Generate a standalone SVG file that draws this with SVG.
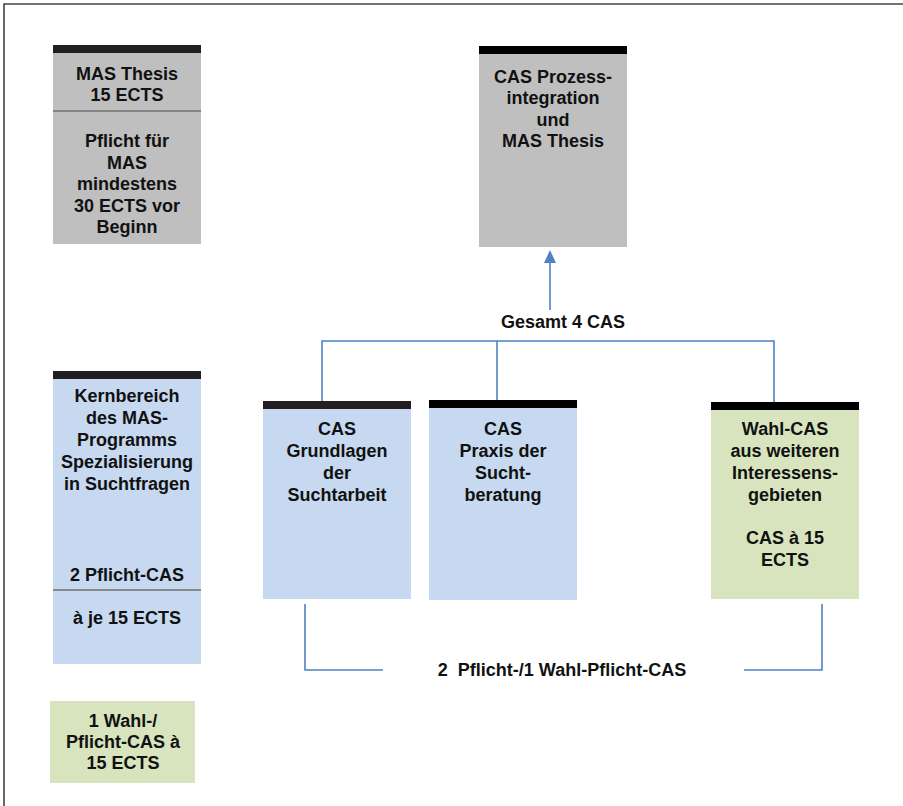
<svg xmlns="http://www.w3.org/2000/svg" width="903" height="806" viewBox="0 0 903 806">
<style>
text{font-family:"Liberation Sans",Arial,sans-serif;font-weight:bold;font-size:18px;fill:#111;text-anchor:middle}
.gray{fill:#bfbfbf}
.blue{fill:#c6d9f0}
.green{fill:#d7e4bd}
.bar{fill:#231f20}
.div{stroke:#6f6f6f;stroke-width:1.5}
.conn{fill:none;stroke:#4f81c4;stroke-width:1.6}
</style>
<rect width="903" height="806" fill="#fff"/>
<g id="frame"><path d="M4,806 V4 H903" fill="none" stroke="#444" stroke-width="1.6"/></g>

<g id="mas-thesis">
<rect class="gray" x="53" y="53" width="148" height="191"/>
<rect class="bar" x="53" y="45" width="148" height="8"/>
<line class="div" x1="53" y1="111" x2="201" y2="111"/>
<text x="127" y="80">MAS Thesis</text>
<text x="127" y="101">15 ECTS</text>
<text x="127" y="147">Pflicht für</text>
<text x="127" y="168.5">MAS</text>
<text x="127" y="190">mindestens</text>
<text x="127" y="211.5">30 ECTS vor</text>
<text x="127" y="233">Beginn</text>
</g>

<g id="cas-prozess">
<rect class="gray" x="479" y="54" width="148" height="193"/>
<rect fill="#000" x="479" y="46" width="148" height="8"/>
<text x="553" y="82.5">CAS Prozess-</text>
<text x="553" y="104">integration</text>
<text x="553" y="125.5">und</text>
<text x="553" y="147">MAS Thesis</text>
</g>

<g id="kernbereich">
<rect class="blue" x="53" y="379" width="148" height="285"/>
<rect class="bar" x="53" y="371" width="148" height="8"/>
<line class="div" x1="53" y1="590" x2="201" y2="590"/>
<text x="127" y="402">Kernbereich</text>
<text x="127" y="424">des MAS-</text>
<text x="127" y="446">Programms</text>
<text x="127" y="468">Spezialisierung</text>
<text x="127" y="490">in Suchtfragen</text>
<text x="127" y="581">2 Pflicht-CAS</text>
<text x="127" y="624">à je 15 ECTS</text>
</g>

<g id="wahl-pflicht">
<rect class="green" x="50" y="701" width="145" height="82"/>
<text x="123" y="727">1 Wahl-/</text>
<text x="123" y="748">Pflicht-CAS à</text>
<text x="123" y="769">15 ECTS</text>
</g>

<g id="cas-grundlagen">
<rect class="blue" x="263" y="409" width="148" height="190"/>
<rect class="bar" x="263" y="401" width="148" height="8"/>
<text x="337" y="435">CAS</text>
<text x="337" y="457">Grundlagen</text>
<text x="337" y="479">der</text>
<text x="337" y="501">Suchtarbeit</text>
</g>

<g id="cas-praxis">
<rect class="blue" x="429" y="408" width="148" height="192"/>
<rect fill="#000" x="429" y="400" width="148" height="8"/>
<text x="503" y="435">CAS</text>
<text x="503" y="457">Praxis der</text>
<text x="503" y="479">Sucht-</text>
<text x="503" y="501">beratung</text>
</g>

<g id="wahl-cas">
<rect class="green" x="711" y="410" width="148" height="189"/>
<rect fill="#000" x="711" y="402" width="148" height="8"/>
<text x="785" y="435">Wahl-CAS</text>
<text x="785" y="457">aus weiteren</text>
<text x="785" y="479">Interessens-</text>
<text x="785" y="501">gebieten</text>
<text x="785" y="544">CAS à 15</text>
<text x="785" y="566">ECTS</text>
</g>

<g id="connectors">
<path class="conn" d="M322,401 V341 H774 V402"/>
<path class="conn" d="M497,341 V400"/>
<line class="conn" x1="550" y1="310" x2="550" y2="261"/>
<polygon points="550,250 544,263 556,263" fill="#4f81c4"/>
<path class="conn" d="M305,604 V670 H383"/>
<path class="conn" d="M744,670 H822 V604"/>
<text x="563" y="328">Gesamt 4 CAS</text>
<text x="562" y="676" xml:space="preserve">2  Pflicht-/1 Wahl-Pflicht-CAS</text>
</g>
</svg>
